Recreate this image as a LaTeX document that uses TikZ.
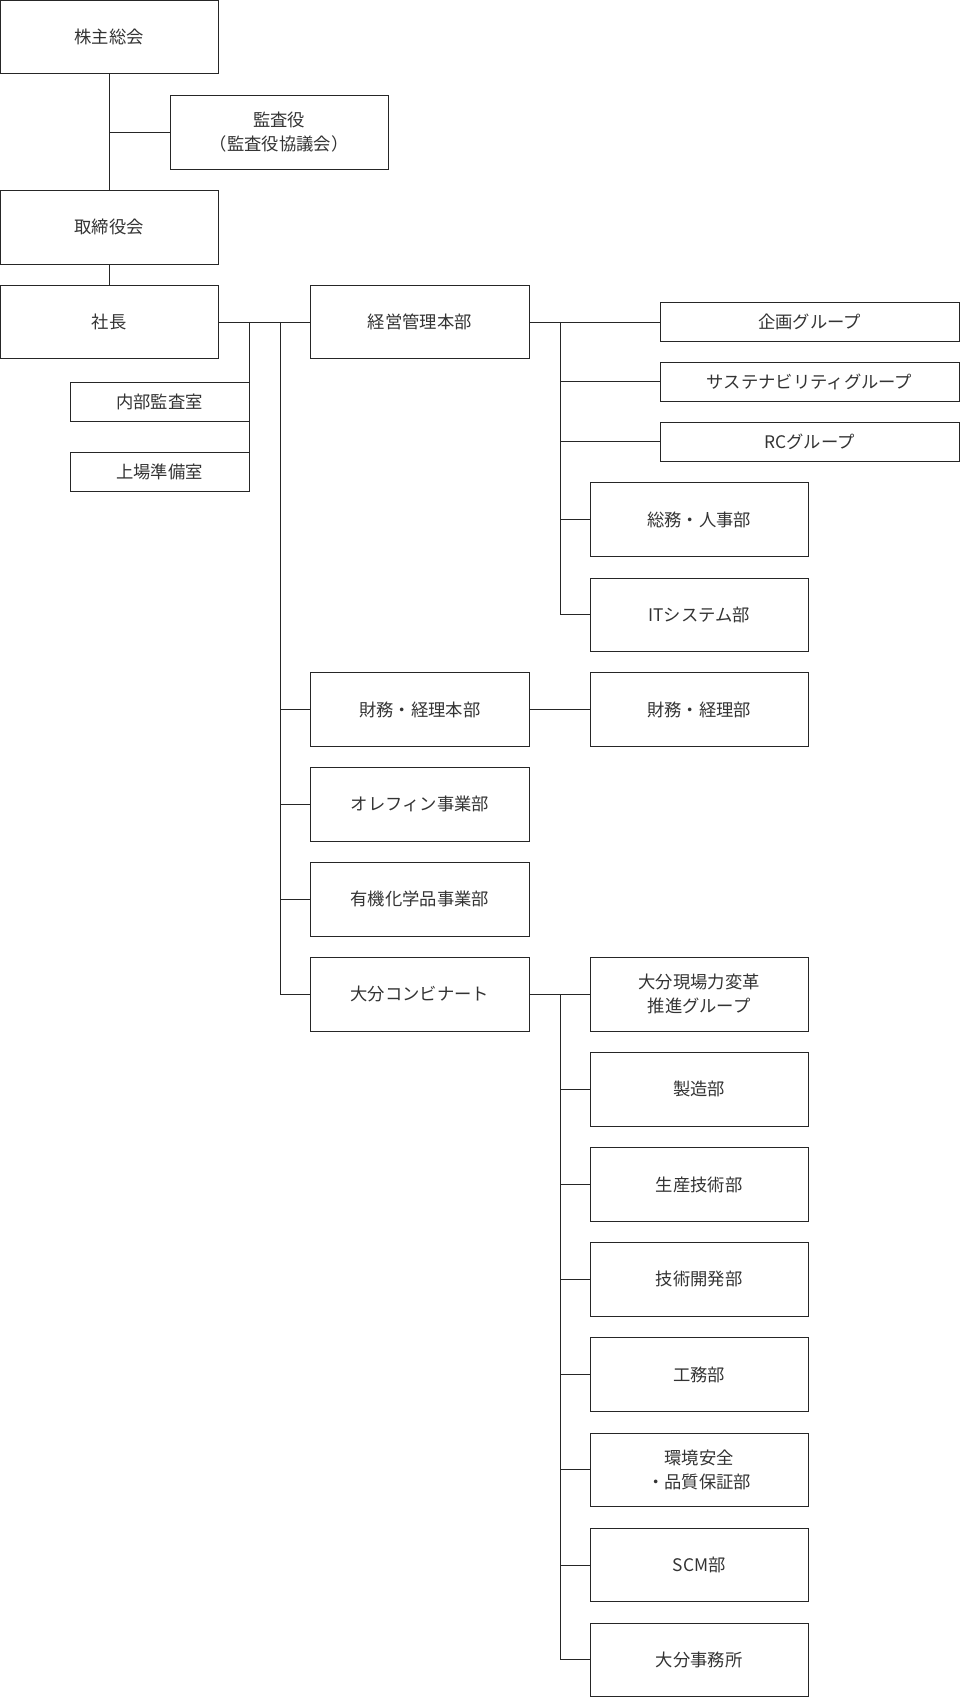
\documentclass[tikz,border=0pt]{standalone}
\usepackage{fontspec}
\setmainfont{Noto Sans CJK JP}
\usetikzlibrary{positioning}
\begin{document}
\begin{tikzpicture}[x=0.75pt,y=-0.75pt,semithick,
			every node/.style={font=\fontsize{12}{17}\selectfont,text=black!80,align=center}]
			\tikzstyle{unit}=[draw=black!85,thin,minimum width=151.5pt,minimum height=51pt,inner sep=0pt]
			\tikzstyle{wide}=[draw=black!85,thin,minimum width=207pt,minimum height=27pt,inner sep=0pt]
			\tikzstyle{small}=[draw=black!85,thin,minimum width=123.75pt,minimum height=27pt,inner sep=0pt]
			\tikzstyle{link}=[draw=black!85,thin]
			\useasboundingbox (0,0) rectangle (887,1568);
			
			\node[unit] (S_0) at (101,34)  {株主総会};
			\node[unit] (K_0) at (258,122) {監査役\\（監査役協議会）};
			\node[unit] (S_1) at (101,210) {取締役会};
			\node[unit] (S_2) at (101,297.5) {社長};
			\node[small] (N_0) at (147.5,371) {内部監査室};
			\node[small] (N_1) at (147.5,436) {上場準備室};
			
			\node[unit] (H_0) at (388,297.5) {経営管理本部};
			\node[wide] (G_0) at (748,297.5) {企画グループ};
			\node[wide] (G_1) at (748,352.5) {サステナビリティグループ};
			\node[wide] (G_2) at (748,408) {RCグループ};
			\node[unit] (B_0) at (646,480) {総務・人事部};
			\node[unit] (B_1) at (646,568) {ITシステム部};
			
			\node[unit] (H_1) at (388,655.5) {財務・経理本部};
			\node[unit] (B_2) at (646,655.5) {財務・経理部};
			\node[unit] (H_2) at (388,743) {オレフィン事業部};
			\node[unit] (H_3) at (388,831) {有機化学品事業部};
			\node[unit] (H_4) at (388,918.5) {大分コンビナート};
			
			\node[unit] (O_0) at (646,918.5) {大分現場力変革\\推進グループ};
			\foreach \name/\y/\txt in {O_1/1006.5/製造部, O_2/1094.5/生産技術部, O_3/1182/技術開発部,
				O_4/1270/工務部, O_5/1358/環境安全\\・品質保証部, O_6/1446/SCM部, O_7/1533.5/大分事務所}
				\node[unit] (\name) at (646,\y) {\txt};
			
			% upper chain
			\path[link] (S_0) -- (S_1) (S_1) -- (S_2);
			\path[link] (K_0.west) -- (K_0.west -| S_0.south);
			\path[link] (S_2) -- (H_0);
			% staff offices
			\path[link] (S_2.east -| N_0.east) -- (N_1.east);
			\path[link] (N_0.east) -- +(0,0);
			% head offices
			\path[link] (259,297.5) |- (H_4.west);
			\foreach \h in {H_1,H_2,H_3}
				\path[link] (\h.west) -- (259,0 |- \h.west);
			% management groups
			\path[link] (H_0) -- (G_0);
			\path[link] (518,297.5) |- (B_1.west);
			\foreach \g in {G_1,G_2,B_0}
				\path[link] (\g.west) -- (518,0 |- \g.west);
			\path[link] (H_1) -- (B_2);
			% Oita complex
			\path[link] (H_4) -- (O_0);
			\path[link] (518,918.5) |- (O_7.west);
			\foreach \o in {O_1,O_2,O_3,O_4,O_5,O_6}
				\path[link] (\o.west) -- (518,0 |- \o.west);
\end{tikzpicture}
\end{document}
